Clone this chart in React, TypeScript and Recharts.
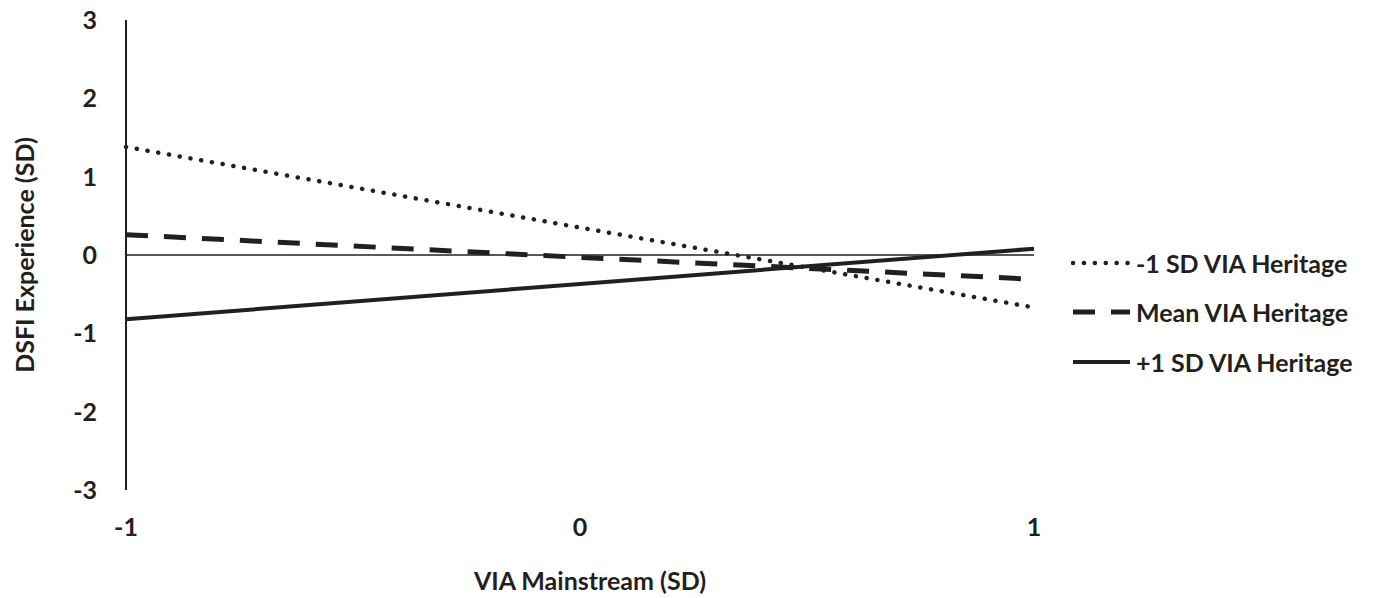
import React from 'react';
import {
  LineChart,
  Line,
  XAxis,
  YAxis,
  ReferenceLine,
  Legend
} from 'recharts';

// VIA Mainstream (SD) positions
const xValues = [-1, 0, 1];
// DSFI Experience (SD) for each level of VIA Heritage
const lowHeritage = [1.38, 0.35, -0.67];
const meanHeritage = [0.26, -0.03, -0.31];
const highHeritage = [-0.82, -0.37, 0.08];

const seriesNames = ['-1 SD VIA Heritage', 'Mean VIA Heritage', '+1 SD VIA Heritage'];
const xTicks = [-1, 0, 1];
const yTicks = [-3, -2, -1, 0, 1, 2, 3];

const data = xValues.map((x, i) => ({
  x,
  low: lowHeritage[i],
  mean: meanHeritage[i],
  high: highHeritage[i],
}));

const INK = '#231f20';
const FONT = 'Lato, "Open Sans", sans-serif';

const tickStyle = { fill: INK, fontSize: 25, fontWeight: 700, fontFamily: FONT };

const renderLegend = (props: any) => {
  const payload = [...(props.payload || [])].sort(
    (a: any, b: any) => seriesNames.indexOf(a.value) - seriesNames.indexOf(b.value)
  );
  return (
    <div style={{ fontFamily: FONT, fontWeight: 700, fontSize: 25, color: INK }}>
      {payload.map((entry: any) => {
        const p = entry.payload || {};
        return (
          <div
            key={entry.value}
            style={{ display: 'flex', alignItems: 'center', height: 49.5 }}
          >
            <svg width={64} height={12} style={{ display: 'block' }}>
              <line
                x1={3}
                y1={6}
                x2={60}
                y2={6}
                stroke={INK}
                strokeWidth={p.strokeWidth}
                strokeDasharray={p.strokeDasharray}
                strokeLinecap={p.strokeLinecap}
              />
            </svg>
            <span style={{ marginLeft: 2 }}>{entry.value}</span>
          </div>
        );
      })}
    </div>
  );
};

const App: React.FC = () => {
  return (
    <div style={{ position: 'absolute', left: 0, top: 0, background: '#fff' }}>
      <LineChart
        width={1378}
        height={598}
        data={data}
        margin={{ top: 20, right: 344, left: 0, bottom: 0 }}
      >
        <XAxis
          dataKey="x"
          type="number"
          domain={[-1, 1]}
          ticks={xTicks}
          axisLine={false}
          tickLine={false}
          tickSize={0}
          tickMargin={28}
          height={108}
          tick={tickStyle}
          label={{
            value: 'VIA Mainstream (SD)',
            position: 'insideBottom',
            offset: 8,
            dx: 10,
            style: { ...tickStyle, textAnchor: 'middle' },
          }}
        />
        <YAxis
          type="number"
          domain={[-3, 3]}
          ticks={yTicks}
          width={126}
          axisLine={{ stroke: INK, strokeWidth: 2 }}
          tickLine={false}
          tickSize={0}
          tickMargin={29}
          tick={tickStyle}
          label={{
            value: 'DSFI Experience (SD)',
            angle: -90,
            position: 'insideLeft',
            offset: 25,
            style: { ...tickStyle, textAnchor: 'middle' },
          }}
        />
        <ReferenceLine y={0} stroke={INK} strokeWidth={1.5} />
        <Legend
          layout="vertical"
          verticalAlign="middle"
          align="center"
          content={renderLegend}
          wrapperStyle={{ left: 1070, top: 238, width: 308 }}
        />
        <Line
          dataKey="low"
          name={seriesNames[0]}
          stroke={INK}
          strokeWidth={4.5}
          strokeDasharray="0.1 10.8"
          strokeLinecap="round"
          dot={false}
          isAnimationActive={false}
        />
        <Line
          dataKey="mean"
          name={seriesNames[1]}
          stroke={INK}
          strokeWidth={5}
          strokeDasharray="22 16"
          dot={false}
          isAnimationActive={false}
        />
        <Line
          dataKey="high"
          name={seriesNames[2]}
          stroke={INK}
          strokeWidth={4}
          dot={false}
          isAnimationActive={false}
        />
      </LineChart>
    </div>
  );
};

export default App;
